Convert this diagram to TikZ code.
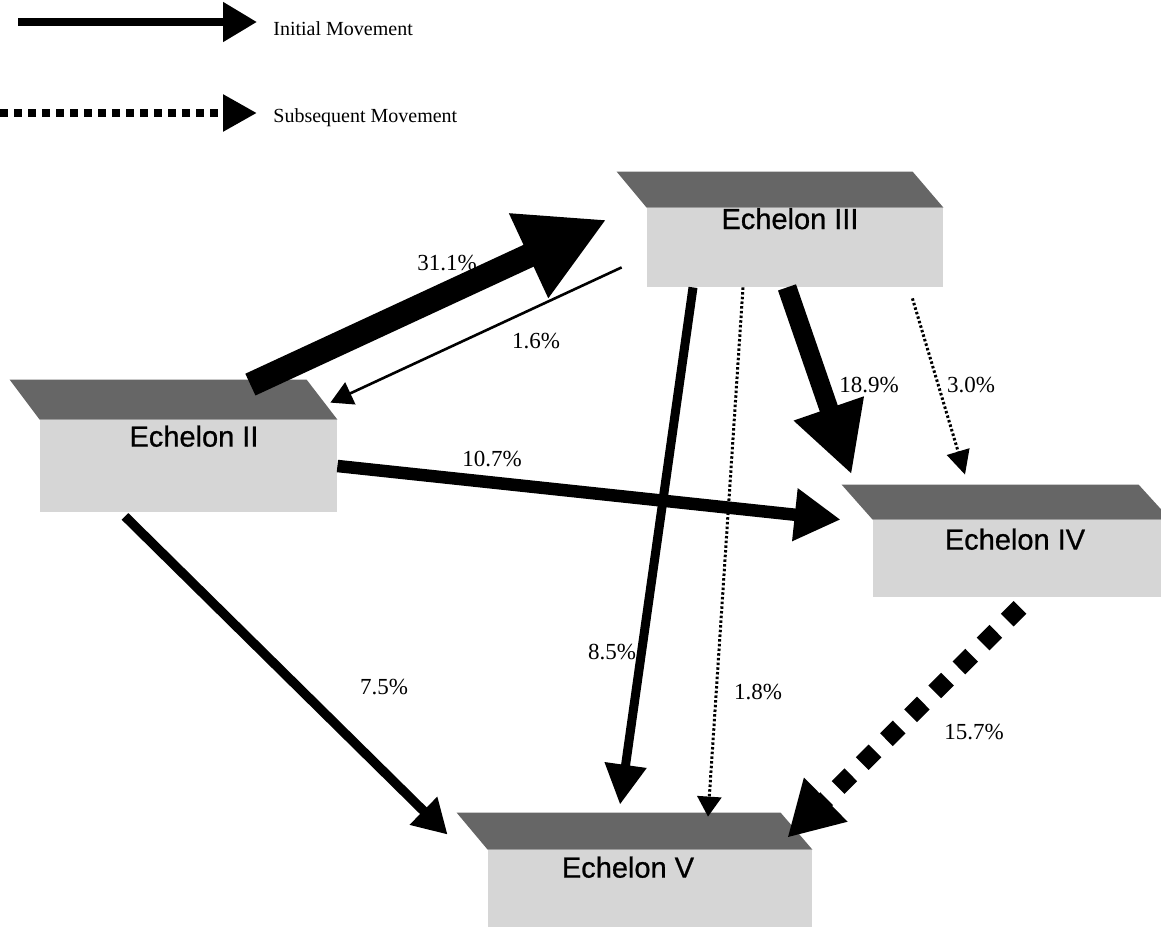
\documentclass[tikz,border=0pt]{standalone}
\usepackage{fontspec}
\setmainfont{Liberation Serif}
\newfontfamily\echfont[FakeBold=0.8]{Liberation Sans}
\usetikzlibrary{arrows.meta, positioning, calc}

\begin{document}
\begin{tikzpicture}[
    x=0.5pt, y=-0.5pt,
    frontface/.style 2 args={fill=black!16, inner sep=0pt,
        minimum width=#1, minimum height=#2},
    topface/.style={fill=black!60},
    echname/.style={font=\echfont\fontsize{14.5}{17}\selectfont, inner sep=0pt},
    pctlabel/.style={font=\fontsize{11.5}{14}\selectfont, inner sep=0pt},
    legendtext/.style={font=\fontsize{10}{12}\selectfont, inner sep=0pt,
        anchor=base west},
    flow/.style n args={3}{line width=#1,
        arrows={-Triangle[length=#2, width=#3]}},
    dotline/.style={dash pattern=on 1.25pt off 1.1pt},
    diamondline/.style={dash pattern=on 9pt off 8pt}
]
\useasboundingbox (0,0) rectangle (1161,931);

\node[frontface={148.5pt}{46pt}]   (e2) at (188.5,466) {};
\node[frontface={148pt}{39.5pt}]   (e3) at (795,247.5) {};
\node[frontface={148.5pt}{38.5pt}] (e4) at (1021.5,558.5) {};
\node[frontface={162pt}{38.5pt}]   (e5) at (650,888.5) {};

\fill[topface] (e2.north west) -- ++(-30,-40) -- ++(297,0) -- (e2.north east) -- cycle;
\fill[topface] (e3.north west) -- ++(-30,-36) -- ++(296,0) -- (e3.north east) -- cycle;
\fill[topface] (e4.north west) -- ++(-31,-35) -- ++(297,0) -- (e4.north east) -- cycle;
\fill[topface] (e5.north west) -- ++(-31,-37) -- ++(324,0) -- (e5.north east) -- cycle;

\node[echname, below=2.8pt of e2.north, xshift=2.75pt] (t2) {Echelon II};
\node[echname, below=0pt of e3.north, xshift=-2.5pt]   (t3) {Echelon III};
\node[echname, below=4.3pt of e4.north, xshift=-3.25pt] (t4) {Echelon IV};
\node[echname, below=3.3pt of e5.north, xshift=-11pt]  (t5) {Echelon V};

\coordinate (lg1tail) at (18,22);
\coordinate (lg2tail) at (0,113);
\node[legendtext] (lg1) at (273,36)  {Initial Movement};
\node[legendtext] (lg2) at (273,123) {Subsequent Movement};
\draw[flow={4pt}{17pt}{19pt}, shorten >=8pt] (lg1tail) -- (lg1tail -| lg1.west);
\draw[flow={4.25pt}{17pt}{17.5pt}, dash pattern=on 4pt off 3pt, shorten >=8pt]
    (lg2tail) -- (lg2tail -| lg2.west);

\node[pctlabel] (p311) at (447,263) {31.1\%};
\node[pctlabel] (p16)  at (536,341) {1.6\%};
\node[pctlabel] (p107) at (492,459) {10.7\%};
\node[pctlabel] (p189) at (869,385) {18.9\%};
\node[pctlabel] (p30)  at (971,385) {3.0\%};
\node[pctlabel] (p75)  at (384,687) {7.5\%};
\node[pctlabel] (p85)  at (612,652) {8.5\%};
\node[pctlabel] (p18)  at (758,692) {1.8\%};
\node[pctlabel] (p157) at (974,732) {15.7\%};

\draw[flow={12pt}{43pt}{43.5pt}]
    ($(e2.north east)+(-87,-35)$) -- ($(e3.north west)+(-40,12)$);
\draw[flow={1.3pt}{11pt}{12pt}]
    ($(e3.south west)+(-25,-20)$) -- ($(e2.north east)+(-7,-17)$);
\draw[flow={6.25pt}{23pt}{25pt}]
    (e2.east) -- ($(e4.north west)+(-32,0)$);
\draw[flow={4.7pt}{17pt}{18.5pt}]
    ($(e2.south)+(-63.5,4)$) -- ($(e5.north west)+(-40,-15)$);
\draw[flow={4.5pt}{20pt}{20pt}]
    ($(e3.south)+(-102,0)$) -- ($(e5.north)+(-30,-45)$);
\draw[flow={1.5pt}{10pt}{12pt}, dotline]
    ($(e3.south)+(-52,0)$) -- ($(e5.north)+(58,-33)$);
\draw[flow={9.5pt}{35pt}{34.5pt}]
    ($(e3.south)+(-8,0)$) -- ($(e4.north west)+(-21,-45)$);
\draw[flow={1.5pt}{12pt}{11.5pt}, dotline]
    ($(e3.south east)+(-31,11)$) -- ($(e4.north)+(-56.5,-45)$);
\draw[flow={9pt}{27pt}{29pt}, diamondline]
    ($(e4.south)+(-1.5,10)$) -- ($(e5.north east)+(-25,-12)$);
\end{tikzpicture}
\end{document}
